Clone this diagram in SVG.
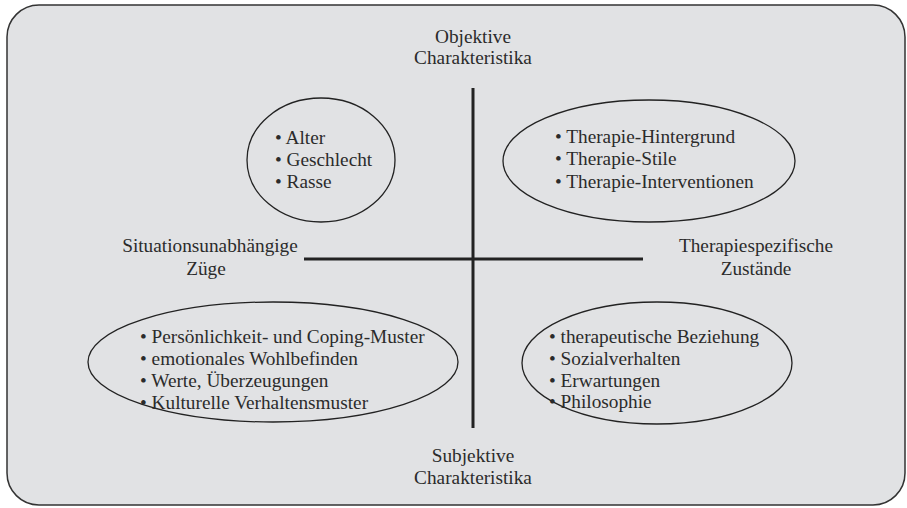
<svg xmlns="http://www.w3.org/2000/svg" width="907" height="508" viewBox="0 0 907 508">
<style>
.c{text-anchor:middle}
.e{fill:none;stroke:#222;stroke-width:1.3}
.ax{stroke:#222;stroke-width:3;fill:none}
</style>
<rect x="7" y="5" width="898" height="500" rx="32" ry="32" fill="#e1e2e4" stroke="#333" stroke-width="1.5"/>
<g id="connectors">
<line class="ax" x1="473" y1="88" x2="473" y2="428"/>
<line class="ax" x1="304" y1="259" x2="643" y2="259"/>
</g>
<g font-family="'Liberation Serif', 'Times New Roman', serif" font-size="19.3" fill="#2b2b2b">
<g id="label-top"><text class="c" x="473" y="43">Objektive</text><text class="c" x="473" y="64">Charakteristika</text></g>
<g id="label-bottom"><text class="c" x="473" y="462">Subjektive</text><text class="c" x="473" y="484">Charakteristika</text></g>
<g id="label-left"><text class="c" x="210" y="252">Situationsunabhängige</text><text class="c" x="206" y="275">Züge</text></g>
<g id="label-right"><text class="c" x="756" y="252">Therapiespezifische</text><text class="c" x="756" y="275">Zustände</text></g>
<g id="node-tl">
<ellipse class="e" cx="321" cy="160" rx="74" ry="62"/>
<text x="275" y="144">• Alter</text><text x="275" y="166">• Geschlecht</text><text x="275" y="188">• Rasse</text>
</g>
<g id="node-tr">
<ellipse class="e" cx="649" cy="161" rx="146" ry="61"/>
<text x="555" y="143">• Therapie-Hintergrund</text><text x="555" y="165">• Therapie-Stile</text><text x="555" y="188">• Therapie-Interventionen</text>
</g>
<g id="node-bl">
<ellipse class="e" cx="273" cy="362" rx="185" ry="60"/>
<text x="140" y="343">• Persönlichkeit- und Coping-Muster</text><text x="140" y="365">• emotionales Wohlbefinden</text><text x="140" y="387">• Werte, Überzeugungen</text><text x="140" y="409">• Kulturelle Verhaltensmuster</text>
</g>
<g id="node-br">
<ellipse class="e" cx="657" cy="363" rx="135" ry="61"/>
<text x="549" y="343">• therapeutische Beziehung</text><text x="549" y="365">• Sozialverhalten</text><text x="549" y="387">• Erwartungen</text><text x="549" y="408">• Philosophie</text>
</g>
</g>
</svg>
